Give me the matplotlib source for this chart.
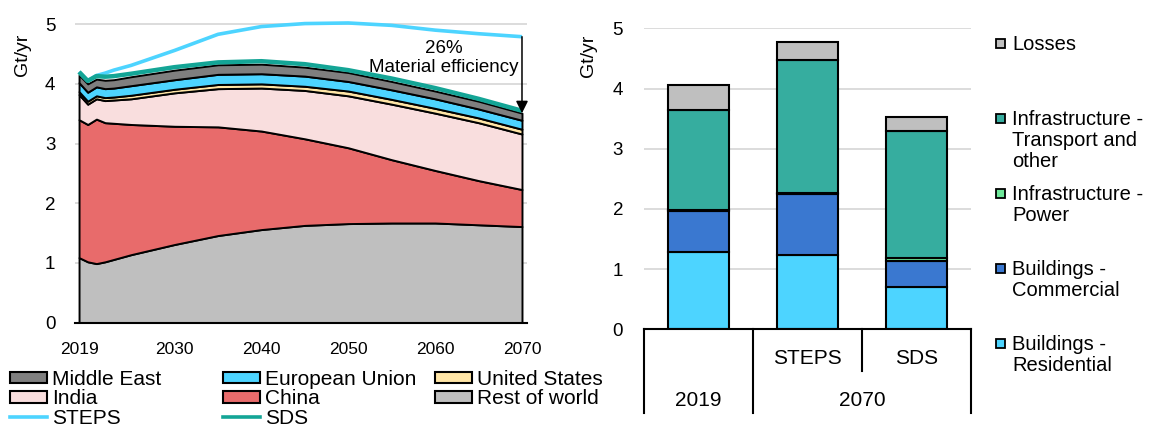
import matplotlib.pyplot as plt
from matplotlib.patches import Patch, Rectangle
from matplotlib.lines import Line2D

plt.rcParams['font.family'] = ['Liberation Sans', 'DejaVu Sans']

# Left chart: demand by region (Gt/yr)
years = [2019, 2020, 2021, 2022, 2023, 2025, 2030, 2035, 2040, 2045, 2050, 2055, 2060, 2065, 2070]
rest_of_world = [1.09, 1.02, 0.99, 1.02, 1.06, 1.14, 1.31, 1.46, 1.56, 1.63, 1.66, 1.67, 1.67, 1.64, 1.61]
china = [2.31, 2.30, 2.42, 2.33, 2.28, 2.18, 1.98, 1.82, 1.65, 1.45, 1.27, 1.06, 0.88, 0.74, 0.62]
india = [0.42, 0.34, 0.34, 0.37, 0.39, 0.43, 0.56, 0.64, 0.72, 0.81, 0.87, 0.93, 0.96, 0.97, 0.93]
united_states = [0.05, 0.05, 0.05, 0.05, 0.05, 0.06, 0.06, 0.07, 0.07, 0.07, 0.08, 0.08, 0.08, 0.08, 0.08]
european_union = [0.15, 0.15, 0.15, 0.15, 0.15, 0.16, 0.16, 0.17, 0.17, 0.17, 0.16, 0.16, 0.16, 0.15, 0.15]
middle_east = [0.13, 0.14, 0.13, 0.14, 0.14, 0.15, 0.16, 0.16, 0.16, 0.15, 0.15, 0.14, 0.13, 0.13, 0.12]
steps = [4.20, 4.05, 4.14, 4.18, 4.23, 4.31, 4.56, 4.83, 4.96, 5.01, 5.02, 4.98, 4.90, 4.84, 4.79]
sds = [4.20, 4.05, 4.13, 4.12, 4.13, 4.17, 4.28, 4.36, 4.38, 4.33, 4.23, 4.09, 3.93, 3.75, 3.55]
year_ticks = [2019, 2030, 2040, 2050, 2060, 2070]

# Right chart: demand by end use (Gt/yr)
bar_labels = ['', 'STEPS', 'SDS']
group_labels = ['2019', '2070']
residential = [1.29, 1.23, 0.70]
commercial = [0.68, 1.02, 0.44]
power = [0.01, 0.02, 0.05]
transport = [1.67, 2.20, 2.11]
losses = [0.41, 0.30, 0.23]

C_ROW = '#BFBFBF'
C_CHINA = '#E86B6B'
C_INDIA = '#F9DEDE'
C_US = '#FFE5A6'
C_EU = '#4DD4FF'
C_ME = '#7F7F7F'
C_STEPS = '#4DD4FF'
C_SDS = '#14A596'
C_RES = '#4DD4FF'
C_COM = '#3A78D0'
C_POW = '#6EE89A'
C_TRA = '#36AD9F'
C_LOS = '#BFBFBF'
GRID = '#D9D9D9'

W, H = 1153, 426
fig = plt.figure(figsize=(W / 100, H / 100), dpi=100)

# ---------------- left chart ----------------
ax1 = fig.add_axes([74.7 / W, 1 - 322.7 / H, 452.5 / W, 304.5 / H])
ax1.stackplot(years, rest_of_world, china, india, united_states, european_union, middle_east,
              colors=[C_ROW, C_CHINA, C_INDIA, C_US, C_EU, C_ME],
              edgecolor='black', linewidth=1.4, zorder=2)
ax1.plot(years, steps, color=C_STEPS, lw=2.6, zorder=3, solid_capstyle='butt')
ax1.plot(years, sds, color=C_SDS, lw=3.2, zorder=4, solid_capstyle='butt')
ax1.annotate('', xy=(years[-1], sds[-1] - 0.04), xytext=(years[-1], steps[-1]),
             arrowprops=dict(arrowstyle='-|>', color='black', lw=1.1,
                             mutation_scale=18, shrinkA=0, shrinkB=0), zorder=5)
ax1.text(2061.0, 4.44, '26%\nMaterial efficiency', ha='center', va='center',
         fontsize=13.5, linespacing=1.15, zorder=6)

ax1.set_xlim(2018.5, 2070.6)
ax1.set_ylim(0, 5.1)
ax1.set_yticks([0, 1, 2, 3, 4, 5])
ax1.set_xticks(year_ticks)
ax1.tick_params(axis='y', length=0, pad=14, labelsize=13.5)
ax1.tick_params(axis='x', length=0, pad=14, labelsize=12.5)
ax1.grid(axis='y', color=GRID, lw=1.3)
ax1.set_axisbelow(True)
for s in ['left', 'top', 'right']:
    ax1.spines[s].set_visible(False)
ax1.spines['bottom'].set_color('black')
ax1.spines['bottom'].set_linewidth(1.5)
ax1.spines['bottom'].set_zorder(5)
fig.text(22 / W, 1 - 55 / H, 'Gt/yr', rotation=90, ha='center', va='center', fontsize=14)

# legend below the left chart, three columns
def patch(c):
    return Patch(facecolor=c, edgecolor='black', linewidth=1.5)

legend_cols = [
    ([patch(C_ME), patch(C_INDIA), Line2D([], [], color=C_STEPS, lw=2.6)],
     ['Middle East', 'India', 'STEPS'], 10),
    ([patch(C_EU), patch(C_CHINA), Line2D([], [], color=C_SDS, lw=2.6)],
     ['European Union', 'China', 'SDS'], 223),
    ([patch(C_US), patch(C_ROW)], ['United States', 'Rest of world'], 435),
]
for handles, labels, x0 in legend_cols:
    fig.legend(handles, labels, loc='upper left', bbox_to_anchor=(x0 / W, 1 - 370 / H),
               bbox_transform=fig.transFigure, frameon=False, fontsize=15,
               handlelength=1.78, handleheight=0.48, handletextpad=0.25,
               labelspacing=0.02, borderpad=0, borderaxespad=0)

# ---------------- right chart ----------------
ax2 = fig.add_axes([644 / W, 1 - 329.3 / H, 327 / W, 301 / H])
xpos = [0, 1, 2]
bw = 0.56
bottom = [0, 0, 0]
for vals, c in [(residential, C_RES), (commercial, C_COM), (power, C_POW),
                (transport, C_TRA), (losses, C_LOS)]:
    ax2.bar(xpos, vals, bw, bottom=bottom, color=c, edgecolor='black', linewidth=1.5, zorder=2)
    bottom = [b + v for b, v in zip(bottom, vals)]

ax2.set_xlim(-0.5, 2.5)
ax2.set_ylim(0, 5)
ax2.set_yticks([0, 1, 2, 3, 4, 5])
ax2.tick_params(axis='y', length=0, pad=15, labelsize=13.5)
ax2.set_xticks(xpos)
ax2.set_xticklabels(bar_labels)
ax2.tick_params(axis='x', length=0, pad=14, labelsize=15)
ax2.grid(axis='y', color=GRID, lw=1.3)
ax2.set_axisbelow(True)
for s in ['left', 'top', 'right']:
    ax2.spines[s].set_visible(False)
ax2.spines['bottom'].set_color('black')
ax2.spines['bottom'].set_linewidth(1.5)

# two-level category axis
tr = ax2.get_xaxis_transform()
for xs, y_end in [(-0.5, -0.278), (0.5, -0.278), (1.5, -0.1385), (2.5, -0.278)]:
    ax2.plot([xs, xs], [0, y_end], color='black', lw=1.5, transform=tr, clip_on=False)
ax2.text(0, -0.235, group_labels[0], transform=tr, ha='center', va='center', fontsize=15)
ax2.text(1.5, -0.235, group_labels[1], transform=tr, ha='center', va='center', fontsize=15)
fig.text(588 / W, 1 - 56 / H, 'Gt/yr', rotation=90, ha='center', va='center', fontsize=14)

# legend to the right of the bars
legend_items = [
    (C_LOS, 'Losses', 43),
    (C_TRA, 'Infrastructure -\nTransport and\nother', 118),
    (C_POW, 'Infrastructure -\nPower', 193),
    (C_COM, 'Buildings -\nCommercial', 268),
    (C_RES, 'Buildings -\nResidential', 343),
]
for c, label, yc in legend_items:
    fig.add_artist(Rectangle((995.5 / W, 1 - (yc + 4.5) / H), 9 / W, 9 / H,
                             transform=fig.transFigure, facecolor=c,
                             edgecolor='black', linewidth=1.3))
    fig.text(1012 / W, 1 - (yc - 8) / H, label, ha='left', va='top',
             fontsize=14.5, linespacing=1.13)

fig.savefig('out.png', dpi=100)
